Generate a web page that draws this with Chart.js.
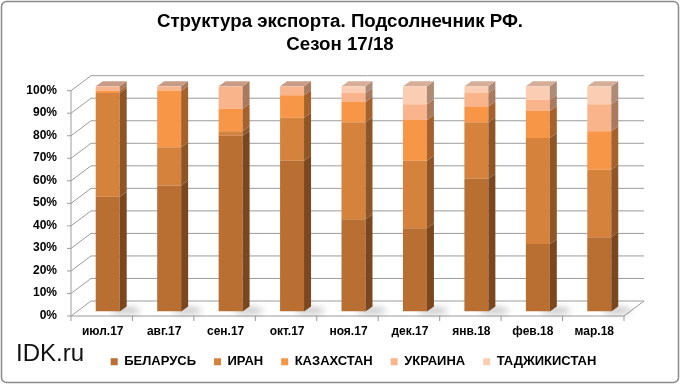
<!DOCTYPE html>
<html>
<head>
<meta charset="utf-8">
<script src="https://cdn.jsdelivr.net/npm/chart.js@4.4.1/dist/chart.umd.min.js"></script>
<style>
  html, body { margin: 0; padding: 0; background: #fff; }
  #wrap { width: 680px; height: 384px; position: relative; }
</style>
</head>
<body>
<div id="wrap"><canvas id="chart"></canvas></div>
<script>
// структура экспорта подсолнечника по месяцам, % (сезон 17/18)
const months = ['июл.17', 'авг.17', 'сен.17', 'окт.17', 'ноя.17', 'дек.17', 'янв.18', 'фев.18', 'мар.18'];
const belarus = [51, 56, 78, 67, 41, 37, 59, 30, 33];
const iran = [46, 17, 2, 19, 43, 30, 25, 47, 30];
const kazakhstan = [1, 25, 10, 10, 9, 18, 7, 12, 17];
const ukraine = [2, 2, 10, 4, 4, 7, 6, 5, 12];
const tajikistan = [0, 0, 0, 0, 3, 8, 3, 6, 8];
const seriesNames = ['БЕЛАРУСЬ', 'ИРАН', 'КАЗАХСТАН', 'УКРАИНА', 'ТАДЖИКИСТАН'];
const seriesColors = ['#B96E32', '#D5823C', '#F79646', '#F9B48C', '#FBCDB2'];
const sideColors = ['#7B471E', '#8E5526', '#A6622C', '#A97A5E', '#AE8B77'];
const topColors = ['#C99A72', '#D8A47C', '#E0A77E', '#C89C84', '#D6AE98'];

const FONT = "'Liberation Sans', Arial, sans-serif";

// смещения "передней" и "задней" плоскости относительно плоскости столбцов
const FRONT = [-6, 4.4];
const BACK = [14, -10.6];
const DEPTH = [7, -5];

const frame3d = {
    id: 'frame3d',
    beforeDraw(chart) {
        const ctx = chart.ctx;
        ctx.save();
        ctx.fillStyle = '#fff';
        ctx.fillRect(0, 0, chart.width, chart.height);
        ctx.strokeStyle = '#8a8a8a';
        ctx.lineWidth = 1.5;
        ctx.beginPath();
        ctx.roundRect(1.5, 1.5, chart.width - 3, chart.height - 3, 5);
        ctx.stroke();
        ctx.restore();
    },
    beforeDatasetsDraw(chart) {
        const { ctx, chartArea: a, scales: { x, y } } = chart;
        ctx.save();
        ctx.strokeStyle = '#9c9c9c';
        ctx.lineWidth = 1;
        y.ticks.forEach(t => {
            const py = y.getPixelForValue(t.value);
            ctx.beginPath();
            ctx.moveTo(a.left + FRONT[0] - 4, py + FRONT[1]);
            ctx.lineTo(a.left + FRONT[0], py + FRONT[1]);
            ctx.lineTo(a.left + BACK[0], py + BACK[1]);
            ctx.lineTo(a.right + BACK[0], py + BACK[1]);
            ctx.stroke();
        });
        // ось и пол
        const top = y.getPixelForValue(100), bot = y.getPixelForValue(0);
        ctx.beginPath();
        ctx.moveTo(a.left + FRONT[0], top + FRONT[1]);
        ctx.lineTo(a.left + FRONT[0], bot + FRONT[1]);
        ctx.lineTo(a.right + FRONT[0], bot + FRONT[1]);
        ctx.lineTo(a.right + BACK[0], bot + BACK[1]);
        ctx.stroke();
        const cw = (a.right - a.left) / months.length;
        for (let i = 0; i <= months.length; i++) {
            const bx = a.left + FRONT[0] + i * cw;
            ctx.beginPath();
            ctx.moveTo(bx, bot + FRONT[1]);
            ctx.lineTo(bx, bot + FRONT[1] + 5);
            ctx.stroke();
        }
        // тени на полу
        const meta = chart.getDatasetMeta(0);
        ctx.filter = 'blur(3px)';
        ctx.fillStyle = 'rgba(0,0,0,0.22)';
        meta.data.forEach(bar => {
            const p = bar.getProps(['x', 'base', 'width'], true);
            ctx.beginPath();
            ctx.ellipse(p.x + p.width / 2 + 6, p.base - 1, 15, 3.5, 0, 0, Math.PI * 2);
            ctx.fill();
        });
        ctx.filter = 'none';
        ctx.restore();
    },
    afterDatasetsDraw(chart) {
        const ctx = chart.ctx;
        ctx.save();
        chart.data.datasets.forEach((ds, di) => {
            const meta = chart.getDatasetMeta(di);
            meta.data.forEach((bar, i) => {
                if (!ds.data[i]) return;
                const p = bar.getProps(['x', 'y', 'base', 'width'], true);
                const r = p.x + p.width / 2, l = p.x - p.width / 2;
                ctx.fillStyle = sideColors[di];
                ctx.beginPath();
                ctx.moveTo(r, p.y);
                ctx.lineTo(r + DEPTH[0], p.y + DEPTH[1]);
                ctx.lineTo(r + DEPTH[0], p.base + DEPTH[1]);
                ctx.lineTo(r, p.base);
                ctx.closePath();
                ctx.fill();
                // верхняя грань только у последнего ненулевого сегмента
                let isTop = true;
                for (let k = di + 1; k < chart.data.datasets.length; k++) {
                    if (chart.data.datasets[k].data[i]) isTop = false;
                }
                if (isTop) {
                    ctx.fillStyle = topColors[di];
                    ctx.beginPath();
                    ctx.moveTo(l, p.y);
                    ctx.lineTo(l + DEPTH[0], p.y + DEPTH[1]);
                    ctx.lineTo(r + DEPTH[0], p.y + DEPTH[1]);
                    ctx.lineTo(r, p.y);
                    ctx.closePath();
                    ctx.fill();
                }
            });
        });
        ctx.restore();
    },
    afterDraw(chart) {
        const ctx = chart.ctx;
        ctx.save();
        ctx.fillStyle = '#111';
        ctx.font = '24px ' + FONT;
        ctx.textBaseline = 'middle';
        ctx.fillText('IDK.ru', 16, 354);
        ctx.restore();
    }
};

const seriesData = [belarus, iran, kazakhstan, ukraine, tajikistan];

new Chart(document.getElementById('chart'), {
    type: 'bar',
    data: {
        labels: months,
        datasets: seriesData.map((d, i) => ({
            label: seriesNames[i],
            data: d,
            backgroundColor: seriesColors[i],
            borderWidth: 0,
            barPercentage: 0.39,
            categoryPercentage: 1
        }))
    },
    options: {
        responsive: true,
        maintainAspectRatio: false,
        animation: false,
        layout: { padding: { left: 10, right: 10, top: 0, bottom: 5.8 } },
        plugins: {
            title: {
                display: true,
                text: ['Структура экспорта. Подсолнечник РФ.', 'Сезон 17/18'],
                color: '#000',
                font: { family: FONT, size: 18.7, weight: 'bold', lineHeight: 23 / 18.7 },
                padding: { top: 10.5, bottom: 29.8 }
            },
            legend: {
                position: 'bottom',
                fullSize: false,
                labels: {
                    color: '#000',
                    font: { family: FONT, size: 13, weight: 'bold' },
                    boxWidth: 7,
                    boxHeight: 7,
                    padding: 18
                }
            },
            tooltip: { enabled: false }
        },
        scales: {
            x: {
                stacked: true,
                grid: { display: false, drawTicks: false },
                border: { display: false },
                ticks: {
                    color: '#000',
                    font: { family: FONT, size: 12, weight: 'bold' },
                    padding: 13,
                    labelOffset: -5,
                    maxRotation: 0
                },
                afterFit(s) { s.height = 25.6; }
            },
            y: {
                stacked: true,
                min: 0,
                max: 100,
                grid: { display: false },
                border: { display: false },
                ticks: {
                    stepSize: 10,
                    color: '#000',
                    font: { family: FONT, size: 12, weight: 'bold' },
                    padding: 12,
                    labelOffset: 4,
                    callback: v => v + '%'
                },
                afterFit(s) { s.width = 67; }
            },
            // пустая правая ось, только чтобы оставить место справа
            yRight: {
                position: 'right',
                grid: { display: false },
                border: { display: false },
                ticks: { display: false },
                afterFit(s) { s.width = 40; }
            }
        }
    },
    plugins: [frame3d]
});
</script>
</body>
</html>
